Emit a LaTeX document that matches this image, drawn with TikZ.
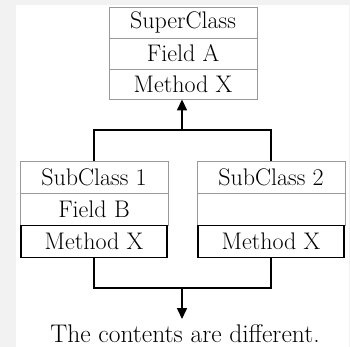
\documentclass[tikz,border=0pt]{standalone}
\usetikzlibrary{arrows.meta}
\definecolor{bggray}{HTML}{F2F2F2}
\definecolor{cellgray}{HTML}{999999}
\tikzset{
  cell/.style={draw=cellgray, line width=0.9pt, minimum width=148pt, inner sep=0pt, font=\fontsize{24}{28}\selectfont},
  mcell/.style={draw=black, line width=1.6pt, minimum width=146pt, inner sep=0pt, font=\fontsize{24}{28}\selectfont},
  conn/.style={draw=black, line width=1.6pt},
  arr/.style={conn, -{Triangle[length=11pt,width=10pt]}},
}
\begin{document}
\begin{tikzpicture}[x=1pt,y=-1pt]
\useasboundingbox (0,0) rectangle (350,347);
\fill[bggray] (0,0) rectangle (350,347);
\fill[white] (16,5) rectangle (349,347);
% superclass
\node[cell, minimum height=31pt] (sa) at (183,22.5) {SuperClass};
\node[cell, minimum height=31pt] (sb) at (183,53.5) {Field A};
\node[cell, minimum height=30pt] (sc) at (183,84) {Method X};
% subclass 1
\node[cell, minimum height=32pt] (aa) at (94,177) {SubClass 1};
\node[cell, minimum height=32pt] (ab) at (94,209) {Field B};
\node[mcell, minimum height=32pt] (am) at (94,241.5) {Method X};
% subclass 2
\node[cell, minimum height=32pt] (ba) at (271,177) {SubClass 2};
\node[cell, minimum height=32pt] (bb) at (271,209) {};
\node[mcell, minimum height=32pt] (bm) at (271,241.5) {Method X};
% junctions
\coordinate (j1) at (182,130);
\coordinate (j2) at (182,288);
\coordinate (tip) at (182,319);
\draw[conn] (aa.north) |- (j1) -| (ba.north);
\draw[arr] (j1) -- (j1 |- sc.south);
\draw[conn] (am.south) |- (j2) -| (bm.south);
\draw[arr] (j2) -- (tip);
\node[anchor=base, inner sep=0pt, font=\fontsize{25.5}{30}\selectfont] (txt) at (185,342) {The contents are different.};
\end{tikzpicture}
\end{document}
